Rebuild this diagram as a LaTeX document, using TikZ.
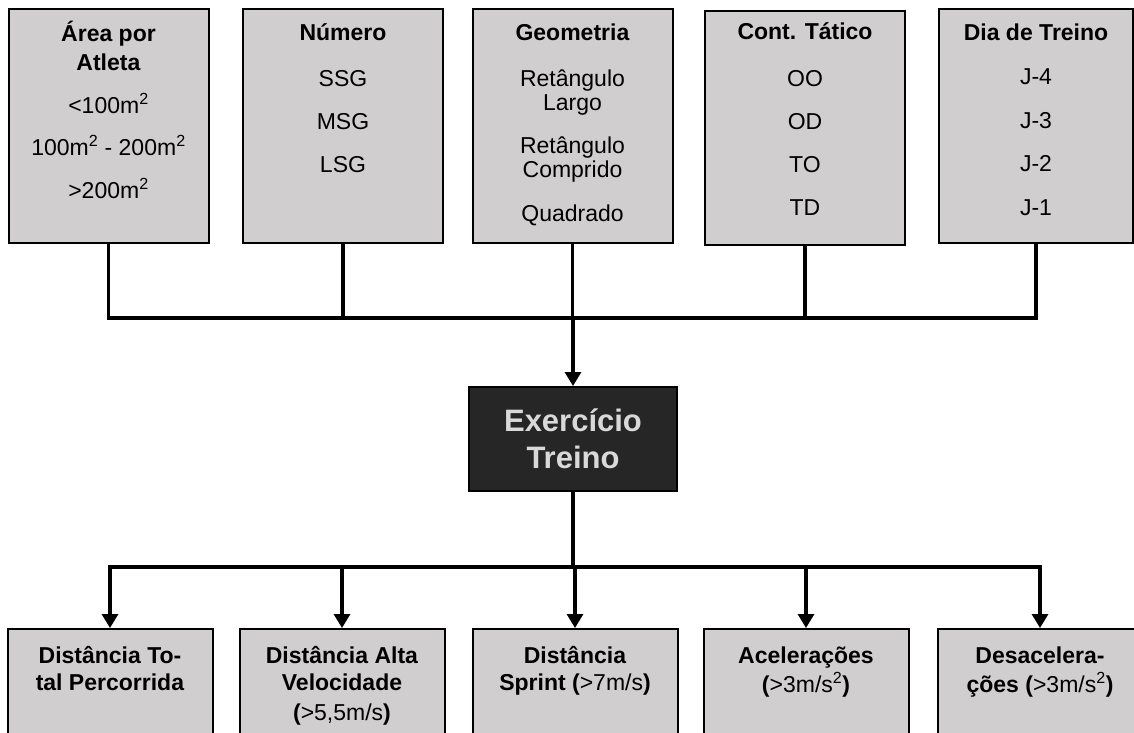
\documentclass[tikz,border=0pt]{standalone}
\usepackage{fontspec}
\setmainfont{Liberation Sans}
\usetikzlibrary{positioning,arrows.meta}
\definecolor{boxgray}{HTML}{D0CECE}
\definecolor{darkbox}{HTML}{262626}
\definecolor{lighttext}{HTML}{D9D9D9}
\tikzset{
  factorbox/.style={draw=black,fill=boxgray,line width=2pt,minimum width=200pt,
    minimum height=234pt,inner sep=0pt},
  factortext/.style={align=center,inner sep=0pt,anchor=north,
    font=\fontsize{23}{27}\selectfont},
  loadbox/.style={draw=black,fill=boxgray,line width=2pt,minimum width=205pt,
    minimum height=160pt,inner sep=0pt,anchor=north},
  loadtext/.style={align=center,inner sep=0pt,anchor=north,
    font=\fontsize{23}{27}\selectfont},
  centrebox/.style={draw=black,fill=darkbox,text=lighttext,line width=2pt,
    minimum width=208pt,minimum height=104pt,inner sep=0pt,align=center,
    font=\fontsize{31}{37}\selectfont\bfseries},
  link/.style={line width=3.2pt,draw=black},
  linkarrow/.style={link,-{Triangle[length=14pt,width=16pt]}},
}
\newcommand{\sqm}{m\textsuperscript{2}}

\begin{document}
\begin{tikzpicture}[x=1pt,y=-1pt]
  \useasboundingbox (0,0) rectangle (1134,732);
  \clip (0,0) rectangle (1134,732);
  \fill[white] (0,0) rectangle (1134,732);
  % factores
  \node[factorbox] (area) at (108.5,126) {};
  \node[factorbox] (numero) at (343,126) {};
  \node[factorbox] (geom) at (572.5,126) {};
  \node[factorbox] (tatico) at (805,127.5) {};
  \node[factorbox,minimum width=194pt] (dia) at (1036,126) {};
  \node[factortext] (areaT) at ([yshift=-13pt]area.north)
    {\strut\textbf{Área por}\\[2pt]\textbf{Atleta}\\[16pt]<100\sqm\\[15pt]
     100\sqm{} - 200\sqm\\[16pt]>200\sqm};
  \node[factortext] (numeroT) at ([yshift=-13pt]numero.north)
    {\strut\textbf{Número}\\[19pt]SSG\\[16pt]MSG\\[16pt]LSG};
  \node[factortext] (geomT) at ([yshift=-13pt]geom.north)
    {\strut\textbf{Geometria}\\[19pt]Retângulo\\[-3pt]Largo\\[16pt]Retângulo\\[-3pt]Comprido\\[17pt]Quadrado};
  \node[factortext] (taticoT) at ([yshift=-11pt]tatico.north)
    {\strut\textbf{Cont. Tático}\\[20pt]OO\\[16pt]OD\\[16pt]TO\\[16pt]TD};
  \node[factortext] (diaT) at ([yshift=-13pt]dia.north)
    {\strut\textbf{Dia de Treino}\\[17pt]J-4\\[17pt]J-3\\[16pt]J-2\\[17pt]J-1};
  % exercicio
  \node[centrebox] (ex) at (573,439) {Exercício\\Treino};
  \coordinate (hub) at (573,318);
  \coordinate (split) at (573,567);
  \foreach \f in {area,numero,geom,tatico,dia}
    \draw[link] (\f.south) |- (hub);
  \draw[linkarrow] (hub) -- (ex.north);
  % cargas
  \node[loadbox] (dtp) at (110,628) {};
  \node[loadbox] (dav) at (342,628) {};
  \node[loadbox] (dsp) at (575,628) {};
  \node[loadbox] (acc) at (806,628) {};
  \node[loadbox] (dec) at (1040,628) {};
  \node[loadtext] (dtpT) at ([yshift=-16pt]dtp.north)
    {\strut\textbf{Distância To-}\\\textbf{tal Percorrida}};
  \node[loadtext] (davT) at ([yshift=-16pt]dav.north)
    {\strut\textbf{Distância Alta}\\\textbf{Velocidade}\\[3pt]\textbf{(}>5,5m/s\textbf{)}};
  \node[loadtext] (dspT) at ([yshift=-16pt]dsp.north)
    {\strut\textbf{Distância}\\\textbf{Sprint (}>7m/s\textbf{)}};
  \node[loadtext] (accT) at ([yshift=-16pt]acc.north)
    {\strut\textbf{Acelerações}\\\textbf{(}>3m/s\textsuperscript{2}\textbf{)}};
  \node[loadtext] (decT) at ([yshift=-16pt]dec.north)
    {\strut\textbf{Desacelera-}\\\textbf{ções (}>3m/s\textsuperscript{2}\textbf{)}};
  \draw[link] (ex.south) -- (split);
  \foreach \c in {dtp,dav,dsp,acc,dec}
    \draw[linkarrow] (split) -| (\c.north);
\end{tikzpicture}
\end{document}
